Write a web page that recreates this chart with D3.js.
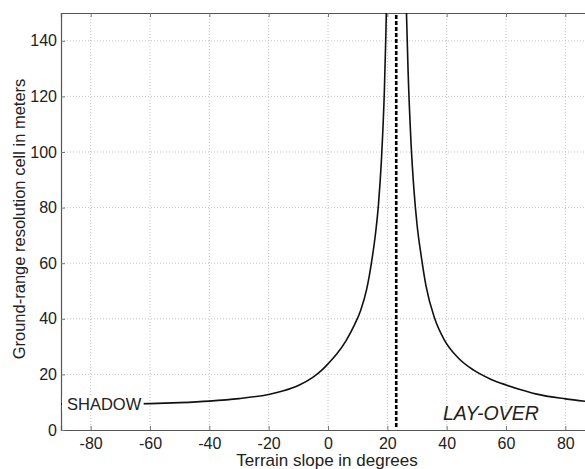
<!DOCTYPE html>
<html>
<head>
<meta charset="utf-8">
<script src="https://cdn.jsdelivr.net/npm/d3@7"></script>
<style>
  body { margin: 0; background: #fff; }
  svg { display: block; font-family: "Liberation Sans", Arial, sans-serif; }
</style>
</head>
<body>
<div id="chart"></div>
<script>
// values
var shadowSlope = [-90, -80, -70, -60, -50, -40, -30, -20, -15, -10, -5, -2, 0, 3, 6, 9, 11, 13, 14.7, 16, 17, 18, 19, 19.5, 20];
var shadowCell  = [9.3, 9.3, 9.35, 9.5, 9.85, 10.4, 11.3, 12.8, 14.1, 16.0, 19.0, 21.6, 23.8, 27.4, 32, 38, 43, 50.5, 60.5, 70.5, 81, 97, 122, 142, 168];
var layoverSlope = [26, 26.5, 27, 28, 29, 30, 31.5, 33, 36, 39, 44, 49, 55, 60, 65, 70, 80, 90];
var layoverCell  = [175, 148, 129, 103, 86, 74, 62, 52, 40, 32.8, 25.8, 21.6, 18.2, 16.2, 14.5, 13.0, 11.2, 10.0];
var incidenceAngle = 23;
var xTicks = [-80, -60, -40, -20, 0, 20, 40, 60, 80];
var yTicks = [0, 20, 40, 60, 80, 100, 120, 140];

var W = 585, H = 469;
var m = {left: 61, right: 595, top: 13, bottom: 430};

var svg = d3.select("#chart").append("svg")
    .attr("width", W)
    .attr("height", H);

var x = d3.scaleLinear().domain([-90, 90]).range([m.left, m.right]);
var y = d3.scaleLinear().domain([0, 150]).range([m.bottom, m.top]);

svg.append("clipPath").attr("id", "plotclip")
  .append("rect")
    .attr("x", m.left).attr("y", m.top)
    .attr("width", m.right - m.left).attr("height", m.bottom - m.top);

// dotted grid
var grid = svg.append("g").attr("stroke", "#c4c4c4").attr("stroke-width", 1)
    .attr("stroke-dasharray", "1,2");
grid.selectAll("line.gx").data(xTicks).join("line")
    .attr("class", "gx")
    .attr("x1", d => x(d)).attr("x2", d => x(d))
    .attr("y1", m.top).attr("y2", m.bottom);
grid.selectAll("line.gy").data(yTicks.slice(1)).join("line")
    .attr("class", "gy")
    .attr("x1", m.left).attr("x2", m.right)
    .attr("y1", d => y(d)).attr("y2", d => y(d));

// axes
var plain = d => String(d);
var xAxis = d3.axisBottom(x).tickValues(xTicks).tickSize(-4).tickPadding(8).tickFormat(plain);
var gx = svg.append("g").attr("transform", "translate(0," + m.bottom + ")").call(xAxis);
var xTop = d3.axisTop(x).tickValues(xTicks).tickSize(-4).tickFormat("");
var gxt = svg.append("g").attr("transform", "translate(0," + m.top + ")").call(xTop);
var yAxis = d3.axisLeft(y).tickValues(yTicks).tickSize(-4).tickPadding(4).tickFormat(plain);
var gy = svg.append("g").attr("transform", "translate(" + m.left + ",0)").call(yAxis);

[gx, gxt, gy].forEach(function(g) {
    g.select(".domain").attr("stroke", "#555").attr("stroke-width", 1.2);
    g.selectAll(".tick line").attr("stroke", "#777");
    g.selectAll("text").attr("font-size", 16).attr("fill", "#222")
        .attr("font-family", "'Liberation Sans', Arial, sans-serif");
});

// curve
var line = d3.line()
    .x(d => x(d[0]))
    .y(d => y(d[1]))
    .curve(d3.curveMonotoneX);

var plot = svg.append("g").attr("clip-path", "url(#plotclip)");
plot.append("path")
    .datum(d3.zip(shadowSlope, shadowCell))
    .attr("fill", "none").attr("stroke", "#111").attr("stroke-width", 1.6)
    .attr("d", line);
plot.append("path")
    .datum(d3.zip(layoverSlope, layoverCell))
    .attr("fill", "none").attr("stroke", "#111").attr("stroke-width", 1.6)
    .attr("d", line);

// dashed incidence line
plot.append("line")
    .attr("x1", x(incidenceAngle)).attr("x2", x(incidenceAngle))
    .attr("y1", m.top + 2).attr("y2", m.bottom - 3)
    .attr("stroke", "#000").attr("stroke-width", 2.6)
    .attr("stroke-dasharray", "4,2");

// region labels (SHADOW sits on a white box that hides the curve)
var shadow = svg.append("text")
    .attr("x", 67).attr("y", 410)
    .attr("font-size", 16.5).attr("fill", "#222")
    .text("SHADOW");
var bb = shadow.node().getBBox();
svg.insert("rect", function() { return shadow.node(); })
    .attr("x", m.left + 1).attr("y", bb.y + 2)
    .attr("width", bb.x + bb.width + 1 - m.left).attr("height", bb.height - 4)
    .attr("fill", "#fff");

svg.append("text")
    .attr("x", 443).attr("y", 420)
    .attr("font-size", 19.5).attr("font-style", "italic").attr("fill", "#222")
    .text("LAY-OVER");

// axis titles
svg.append("text")
    .attr("x", 327).attr("y", 466)
    .attr("text-anchor", "middle")
    .attr("font-size", 17).attr("fill", "#222")
    .text("Terrain slope in degrees");
svg.append("text")
    .attr("transform", "translate(25," + 219 + ") rotate(-90)")
    .attr("text-anchor", "middle")
    .attr("font-size", 16.5).attr("fill", "#222")
    .text("Ground-range resolution cell in meters");
</script>
</body>
</html>
